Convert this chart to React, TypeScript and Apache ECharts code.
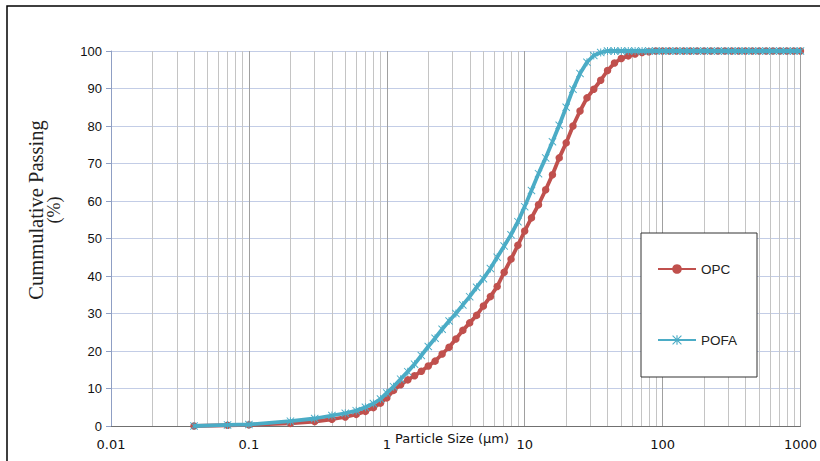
import React, { useEffect, useRef } from "react";
import * as echarts from "echarts";

// Particle size (µm)
const sizes = [
  0.04, 0.07, 0.1, 0.2, 0.3, 0.4, 0.5, 0.6, 0.7, 0.8, 0.9,
  1.0, 1.12, 1.26, 1.42, 1.59, 1.78, 2.0, 2.24, 2.52, 2.83,
  3.17, 3.56, 3.99, 4.48, 5.02, 5.64, 6.32, 7.1, 7.96, 8.93,
  10.0, 11.2, 12.6, 14.2, 15.9, 17.8, 20.0, 22.4, 25.2, 28.3,
  31.7, 35.6, 39.9, 44.8, 50.2, 56.4, 63.2, 71.0, 79.6, 89.3,
  100, 112, 126, 142, 159, 178, 200, 224, 252, 283,
  317, 356, 399, 448, 502, 564, 632, 710, 796, 893, 1000,
];

// Cumulative passing (%)
const opc = [
  0, 0.2, 0.3, 0.7, 1.2, 1.8, 2.4, 3.1, 3.9, 4.9, 6.1,
  7.5, 9.5, 11.0, 12.3, 13.4, 14.6, 16.0, 17.3, 19.2, 21.0,
  23.2, 25.5, 27.5, 29.5, 32.0, 34.5, 37.2, 41.0, 44.5, 48.2,
  52.0, 55.5, 59.0, 63.0, 67.0, 71.5, 75.5, 80.0, 84.0, 87.5,
  89.8, 92.2, 94.8, 96.8, 98.0, 98.7, 99.2, 99.6, 99.8, 100,
  100, 100, 100, 100, 100, 100, 100, 100, 100, 100,
  100, 100, 100, 100, 100, 100, 100, 100, 100, 100, 100,
];

const pofa = [
  0, 0.3, 0.4, 1.3, 2.0, 2.8, 3.4, 4.1, 5.0, 6.0, 7.2,
  8.8, 10.5, 12.5, 14.5, 16.5, 18.8, 21.2, 23.4, 25.8, 28.0,
  30.0, 32.3, 34.5, 37.0, 39.3, 42.0, 45.0, 48.0, 51.0, 54.5,
  58.5, 62.8, 67.3, 71.5, 75.8, 80.2, 85.0, 89.8, 94.0, 97.0,
  98.8, 99.6, 100, 100, 100, 100, 100, 100, 100, 100,
  100, 100, 100, 100, 100, 100, 100, 100, 100, 100,
  100, 100, 100, 100, 100, 100, 100, 100, 100, 100, 100,
];

const seriesNames = ["OPC", "POFA"];
const xTitle = "Particle Size (µm)";
const yTitle1 = "Cummulative Passing";
const yTitle2 = "(%)";

const asterisk =
  "path://M4.4,0 H5.6 V10 H4.4 Z M0,0.8 L0.8,0 L10,9.2 L9.2,10 Z M9.2,0 L10,0.8 L0.8,10 L0,9.2 Z";

export default function App() {
  const ref = useRef<HTMLDivElement>(null);
  useEffect(() => {
    document.body.style.margin = "0";
    const chart = echarts.init(ref.current as HTMLDivElement, null, { renderer: "svg" });
    chart.setOption({
      animation: false,
      backgroundColor: "#ffffff",
      grid: { left: 111, right: 19, top: 51, bottom: 35, containLabel: false },
      legend: {
        data: seriesNames,
        orient: "vertical",
        left: 657,
        top: 262,
        padding: 0,
        itemWidth: 38,
        itemHeight: 12,
        itemGap: 57,
        selectedMode: false,
        textStyle: { fontFamily: "Liberation Sans", fontSize: 13.5, color: "#222" },
        z: 5,
      },
      xAxis: {
        type: "log",
        logBase: 10,
        min: 0.01,
        max: 1000,
        axisLine: { show: true, lineStyle: { color: "#707070", width: 1 } },
        axisTick: { show: false },
        axisLabel: {
          fontFamily: "DejaVu Sans",
          fontSize: 13,
          color: "#111",
          margin: 12,
          formatter: (v: number) => String(Number(v.toPrecision(3))),
        },
        splitLine: { show: true, lineStyle: { color: "#a0a0a0", width: 1 } },
        minorTick: { show: false, splitNumber: 9 },
        minorSplitLine: { show: true, lineStyle: { color: "#c4c4c4", width: 1 } },
      },
      yAxis: {
        type: "value",
        min: 0,
        max: 100,
        interval: 10,
        axisLine: { show: true, lineStyle: { color: "#8f9fc4", width: 1 } },
        axisTick: { show: true, length: 5, lineStyle: { color: "#8f9fc4" } },
        axisLabel: { fontFamily: "Liberation Sans", fontSize: 13, color: "#111", margin: 9 },
        splitLine: { show: true, lineStyle: { color: "#c3cde6", width: 1 } },
      },
      series: [
        {
          name: seriesNames[0],
          type: "line",
          data: sizes.map((s, i) => [s, opc[i]]),
          symbol: "circle",
          symbolSize: 7.5,
          showAllSymbol: true,
          lineStyle: { color: "#c0504d", width: 3.8 },
          itemStyle: { color: "#c0504d" },
          z: 3,
        },
        {
          name: seriesNames[1],
          type: "line",
          data: sizes.map((s, i) => [s, pofa[i]]),
          symbol: asterisk,
          symbolSize: 8,
          showAllSymbol: true,
          lineStyle: { color: "#4bacc6", width: 3.8 },
          itemStyle: { color: "#4bacc6" },
          z: 4,
        },
      ],
      graphic: [
        {
          type: "rect",
          shape: { x: 7, y: 6, width: 840, height: 480 },
          style: { fill: "none", stroke: "#000", lineWidth: 1.5 },
          silent: true,
          z: 10,
        },
        {
          type: "rect",
          shape: { x: 641, y: 233, width: 116, height: 144 },
          style: { fill: "#ffffff", stroke: "#333", lineWidth: 1 },
          silent: true,
          z: 4,
        },
        {
          type: "text",
          x: 395,
          y: 438,
          style: {
            text: xTitle,
            fontFamily: "DejaVu Sans",
            fontSize: 13,
            fill: "#111",
            align: "left",
            verticalAlign: "middle",
          },
          z: 6,
        },
        {
          type: "text",
          x: 36,
          y: 210,
          rotation: Math.PI / 2,
          style: {
            text: yTitle1,
            fontFamily: "Liberation Serif",
            fontSize: 20.5,
            fill: "#222",
            align: "center",
            verticalAlign: "middle",
          },
        },
        {
          type: "text",
          x: 54,
          y: 210,
          rotation: Math.PI / 2,
          style: {
            text: yTitle2,
            fontFamily: "Liberation Serif",
            fontSize: 18,
            fill: "#222",
            align: "center",
            verticalAlign: "middle",
          },
        },
      ],
    });
    return () => chart.dispose();
  }, []);
  return <div ref={ref} style={{ width: 820, height: 461 }} />;
}
